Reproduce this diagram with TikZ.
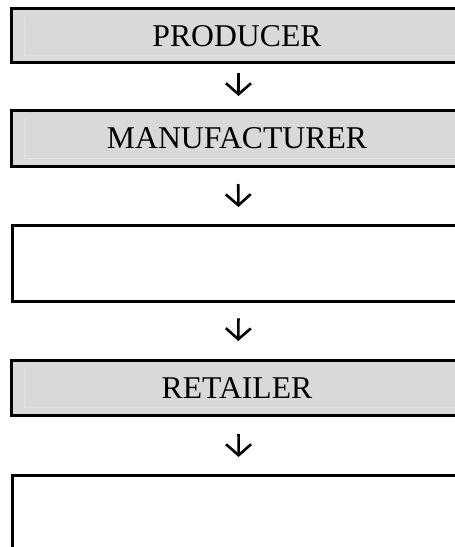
\documentclass[tikz,border=0pt]{standalone}
\usepackage{fontspec}
\setmainfont{Liberation Serif}
\usetikzlibrary{arrows.meta}
\definecolor{boxgray}{HTML}{D9D9D9}
\definecolor{bevelgray}{HTML}{E4E4E4}
\tikzset{
  graybox/.style={draw=black, line width=3pt, fill=boxgray, rectangle, anchor=north west, inner sep=0pt, minimum width=470pt},
  whitebox/.style={draw=black, line width=3.3pt, fill=white, rectangle, anchor=north west, inner sep=0pt, minimum width=470pt},
  lbl/.style={anchor=base, inner sep=0pt, font=\fontsize{31.7}{38}\selectfont},
  bevel/.style={draw=bevelgray, line width=1pt},
  arr/.style={line width=2.6pt, -{Straight Barb[length=11pt,width=25pt,line width=2.6pt]}}
}
\begin{document}
\begin{tikzpicture}[x=1pt,y=-1pt]
\useasboundingbox (0,0) rectangle (455,547);
\clip (0,0) rectangle (455,547);
% boxes
\node[graybox, minimum height=54pt] (p) at (10,7) {};
\node[graybox, minimum height=55.5pt] (m) at (10,109) {};
\node[whitebox, minimum height=76pt] (w) at (10.5,223.7) {};
\node[graybox, minimum height=55.3pt] (r) at (10,359) {};
\node[whitebox, minimum height=120pt] (c) at (10.5,474) {};
% bevels
\draw[bevel] ([xshift=14pt,yshift=-10pt]p.north west) -- ([xshift=14pt,yshift=9pt]p.south west) -- ([yshift=9pt]p.south east);
\draw[bevel] ([xshift=14pt,yshift=-9pt]m.north west) -- ([xshift=14pt,yshift=9.5pt]m.south west) -- ([yshift=9.5pt]m.south east);
\draw[bevel] ([xshift=14pt,yshift=-9pt]r.north west) -- ([xshift=14pt,yshift=9.5pt]r.south west) -- ([yshift=9.5pt]r.south east);
% labels
\node[lbl] (pt) at (237,46) {PRODUCER};
\node[lbl] (mt) at (237,148.8) {MANUFACTURER};
\node[lbl] (rt) at (237,398.7) {RETAILER};
% arrows
\draw[arr, shorten <=9pt, shorten >=13pt] ([xshift=-8pt]p.south) -- ([xshift=-8pt]m.north);
\draw[arr, shorten <=16.5pt, shorten >=16.7pt] ([xshift=-8.5pt]m.south) -- ([xshift=-8.5pt]w.north);
\draw[arr, shorten <=15.3pt, shorten >=18pt] ([xshift=-8.5pt]w.south) -- ([xshift=-8.5pt]r.north);
\draw[arr, shorten <=16.7pt, shorten >=17pt] ([xshift=-8pt]r.south) -- ([xshift=-8.5pt]c.north);
\end{tikzpicture}
\end{document}
